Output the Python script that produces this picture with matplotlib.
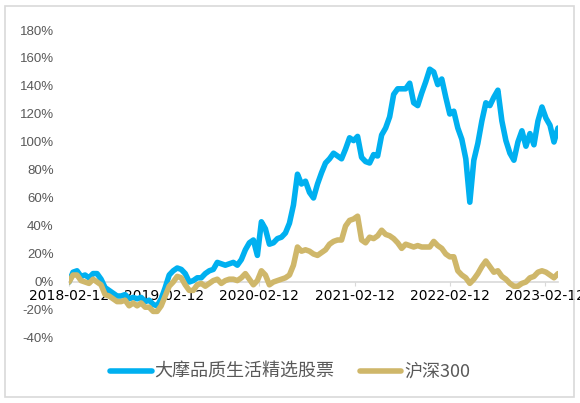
import numpy as np
import pandas as pd
import matplotlib
matplotlib.use("Agg")
import matplotlib.pyplot as plt
from matplotlib.patches import Rectangle

# ── данные (шаг ~15 дней) ────────────────────────────────────────────────────
START = "2018-02-12"
STEP = "369h"

fund = [0, 7, 8, 4, 5, 3, 6, 6, 2, -4, -6, -8, -10, -10, -9, -12, -11, -12,
        -11, -14, -13, -16, -17, -12, -4, 5, 8, 10, 9, 6, 0, 1, 3, 3, 6, 8,
        9, 14, 13, 12, 13, 14, 12, 16, 23, 28, 30, 19, 43, 38, 27, 28, 31, 32,
        35, 42, 55, 77, 70, 72, 64, 60, 70, 78, 85, 88, 92, 90, 88, 95, 103,
        101, 104, 89, 86, 85, 91, 90, 105, 110, 118, 134, 138, 138, 138, 142,
        128, 126, 135, 143, 152, 150, 141, 145, 132, 120, 122, 110, 102, 88,
        57, 87, 99, 115, 128, 126, 132, 137, 115, 101, 92, 87, 100, 108, 97,
        106, 98, 115, 125, 117, 112, 100, 110]

hs300 = [0, 5, 5, 1, 0, -1, 2, 0, -2, -9, -10, -12, -14, -14, -13, -17, -15,
         -17, -15, -18, -18, -21, -21, -17, -10, -3, 0, 4, 3, -2, -6, -6, -2,
         -1, -3, -1, 1, 2, -1, 1, 2, 2, 1, 3, 6, 2, -2, 1, 8, 5, -2, 0, 1, 2,
         3, 5, 12, 25, 22, 23, 22, 20, 19, 21, 23, 27, 29, 30, 30, 40, 44, 45,
         47, 30, 28, 32, 31, 33, 37, 34, 33, 31, 28, 24, 27, 26, 25, 26, 25,
         25, 25, 29, 26, 24, 20, 18, 18, 8, 5, 3, -1, 2, 6, 11, 15, 11, 7, 8,
         4, 2, -1, -3, -3, -1, 0, 3, 4, 7, 8, 7, 5, 3, 6]

labels = ["大摩品质生活精选股票", "沪深300"]
xticks = ["2018-02-12", "2019-02-12", "2020-02-12", "2021-02-12", "2022-02-12", "2023-02-12"]
yticks = [-40, -20, 0, 20, 40, 60, 80, 100, 120, 140, 160, 180]

dates = pd.date_range(START, periods=len(fund), freq=STEP)

BLUE = "#00B0F0"
GOLD = "#CFB76A"
GRAY = "#595959"

fig = plt.figure(figsize=(5.8, 4.03), dpi=100)
fig.patches.append(Rectangle((5 / 580, 6 / 403), 569 / 580, 391 / 403,
                             transform=fig.transFigure, fill=False,
                             edgecolor="#D9D9D9", linewidth=1.2))

ax = fig.add_axes([69 / 580, 1 - 338 / 403, 489 / 580, 308 / 403])
ax.plot(dates, fund, color=BLUE, linewidth=4, solid_joinstyle="round",
        solid_capstyle="round", label=labels[0])
ax.plot(dates, hs300, color=GOLD, linewidth=4, solid_joinstyle="round",
        solid_capstyle="round", label=labels[1])

ax.set_xlim(dates[0], dates[-1])
ax.set_ylim(-40, 180)
ax.set_yticks(yticks)
ax.set_yticklabels([f"{v}%" for v in yticks], family="Liberation Sans",
                   fontsize=9.5, color=GRAY)
ax.tick_params(axis="y", length=0, pad=11)

ax.set_xticks(pd.to_datetime(xticks))
ax.set_xticklabels(xticks, family="Liberation Sans", fontsize=9, color=GRAY)
ax.tick_params(axis="x", length=3, width=0.8, color="#D9D9D9", pad=2)

for s in ["top", "right", "left"]:
    ax.spines[s].set_visible(False)
ax.spines["bottom"].set_position(("data", 0))
ax.spines["bottom"].set_color("#D9D9D9")
ax.spines["bottom"].set_linewidth(1.2)
ax.spines["bottom"].set_zorder(1)

fig.legend(loc="center", bbox_to_anchor=(0.5, 1 - 372 / 403), ncol=2,
           frameon=False, handlelength=2.3, handletextpad=0.15,
           columnspacing=1.4,
           prop={"family": ["Noto Sans CJK SC", "DejaVu Sans"], "size": 13},
           labelcolor=GRAY)

plt.savefig("out.png", dpi=100)
